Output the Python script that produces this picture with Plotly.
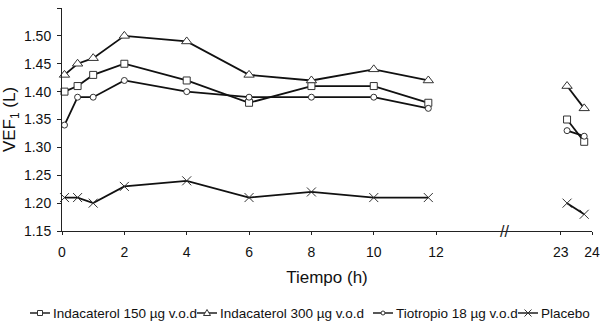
import plotly.graph_objects as go

# Time points (hours)
hours = [0.08, 0.5, 1, 2, 4, 6, 8, 10, 11.75, 23.2, 23.75]

inda150 = [1.40, 1.41, 1.43, 1.45, 1.42, 1.38, 1.41, 1.41, 1.38, 1.35, 1.31]
inda300 = [1.43, 1.45, 1.46, 1.50, 1.49, 1.43, 1.42, 1.44, 1.42, 1.41, 1.37]
tiotropio = [1.34, 1.39, 1.39, 1.42, 1.40, 1.39, 1.39, 1.39, 1.37, 1.33, 1.32]
placebo = [1.21, 1.21, 1.20, 1.23, 1.24, 1.21, 1.22, 1.21, 1.21, 1.20, 1.18]

tick_hours = [0, 2, 4, 6, 8, 10, 12, 23, 24]
tick_labels = ["0", "2", "4", "6", "8", "10", "12", "23", "24"]

series_names = ["Indacaterol 150 µg v.o.d", "Indacaterol 300 µg v.o.d",
                "Tiotropio 18 µg v.o.d", "Placebo"]

# Broken axis: hours 12..23 are compressed into 4 units
BREAK_START, BREAK_END, BREAK_WIDTH = 12, 23, 4


def xmap(h):
    if h <= BREAK_START:
        return h
    return h - (BREAK_END - BREAK_START) + BREAK_WIDTH


def with_gap(xs, ys):
    ox, oy = [], []
    for i, (x, y) in enumerate(zip(xs, ys)):
        if i > 0 and xs[i - 1] <= BREAK_START < x:
            ox.append(None)
            oy.append(None)
        ox.append(xmap(x))
        oy.append(y)
    return ox, oy


LINE_COLOR = "#111111"
MARK_COLOR = "#333333"
styles = [
    dict(symbol="square", size=7),
    dict(symbol="triangle-up", size=9),
    dict(symbol="circle", size=6),
    dict(symbol="x-thin", size=9),
]

fig = go.Figure()
for name, vals, st in zip(series_names, [inda150, inda300, tiotropio, placebo], styles):
    x, y = with_gap(hours, vals)
    if st["symbol"] == "x-thin":
        marker = dict(symbol="x-thin", size=st["size"], line=dict(color=MARK_COLOR, width=1))
    else:
        marker = dict(symbol=st["symbol"], size=st["size"], color="white",
                      line=dict(color=MARK_COLOR, width=1))
    fig.add_trace(go.Scatter(
        x=x, y=y, name=name, mode="lines+markers",
        line=dict(color=LINE_COLOR, width=1.8),
        marker=marker, connectgaps=False, cliponaxis=False, showlegend=False,
    ))

# axis break mark
fig.add_annotation(x=(xmap(BREAK_START) + xmap(BREAK_END)) / 2 + 0.2, y=1.15,
                   xref="x", yref="y", text="//", showarrow=False,
                   font=dict(size=16, color="#222"))

# ---- custom compact legend (paper coordinates, pixel-sized glyphs) ----
ML, MR, MT, MB = 62, 8, 8, 94
W, H = 600, 325
PW, PH = W - ML - MR, H - MT - MB


def px2x(px):
    return (px - ML) / PW


def py2y(py):
    return (H - MB - py) / PH


legend_starts = [30, 197, 373, 518]
LEG_Y = py2y(313)
SAMPLE = 20
shapes = []
for i, (start, name, st) in enumerate(zip(legend_starts, series_names, styles)):
    ax = px2x(start + SAMPLE / 2)
    shapes.append(dict(type="line", xref="paper", yref="paper", xsizemode="pixel",
                       xanchor=ax, x0=-SAMPLE / 2, x1=SAMPLE / 2, y0=LEG_Y, y1=LEG_Y,
                       line=dict(color=LINE_COLOR, width=1.4)))
    common = dict(xref="paper", yref="paper", xsizemode="pixel", ysizemode="pixel",
                  xanchor=ax, yanchor=LEG_Y)
    if st["symbol"] == "square":
        shapes.append(dict(type="rect", x0=-2.5, x1=2.5, y0=-2.5, y1=2.5,
                           fillcolor="white", line=dict(color=MARK_COLOR, width=1), **common))
    elif st["symbol"] == "triangle-up":
        shapes.append(dict(type="path", path="M-3.5,-2.5 L3.5,-2.5 L0,3.5 Z",
                           fillcolor="white", line=dict(color=MARK_COLOR, width=1), **common))
    elif st["symbol"] == "circle":
        shapes.append(dict(type="circle", x0=-2, x1=2, y0=-2, y1=2,
                           fillcolor="white", line=dict(color=MARK_COLOR, width=1), **common))
    else:
        shapes.append(dict(type="path", path="M-3.5,-3.5 L3.5,3.5 M-3.5,3.5 L3.5,-3.5",
                           line=dict(color=MARK_COLOR, width=1), **common))
    fig.add_annotation(x=px2x(start + SAMPLE + 1), y=LEG_Y, xref="paper", yref="paper",
                       text=name, showarrow=False, xanchor="left", yanchor="middle",
                       font=dict(size=13.5, color="#111"))

font = dict(family="Liberation Sans, Arial, sans-serif", size=14, color="#111")

fig.update_layout(
    width=W, height=H,
    margin=dict(l=ML, r=MR, t=MT, b=MB),
    paper_bgcolor="white", plot_bgcolor="white",
    font=font,
    showlegend=False,
    shapes=shapes,
    xaxis=dict(range=[0, xmap(24)], tickvals=[xmap(h) for h in tick_hours],
               ticktext=tick_labels, showline=True, linecolor="#222", linewidth=1,
               ticks="outside", ticklen=3, tickcolor="#222", showgrid=False,
               zeroline=False, title=dict(text="Tiempo (h)", standoff=12),
               ticklabelstandoff=5, tickfont=dict(size=14), automargin=False),
    yaxis=dict(range=[1.15, 1.55], dtick=0.05, tickformat=".2f",
               showline=True, linecolor="#222", linewidth=1,
               ticks="outside", ticklen=4, tickcolor="#222", showgrid=False,
               zeroline=False, title=dict(text="VEF<sub>1</sub> (L)", standoff=6),
               ticklabelstandoff=3, tickfont=dict(size=14), automargin=False),
)

fig.write_html("out.html")
